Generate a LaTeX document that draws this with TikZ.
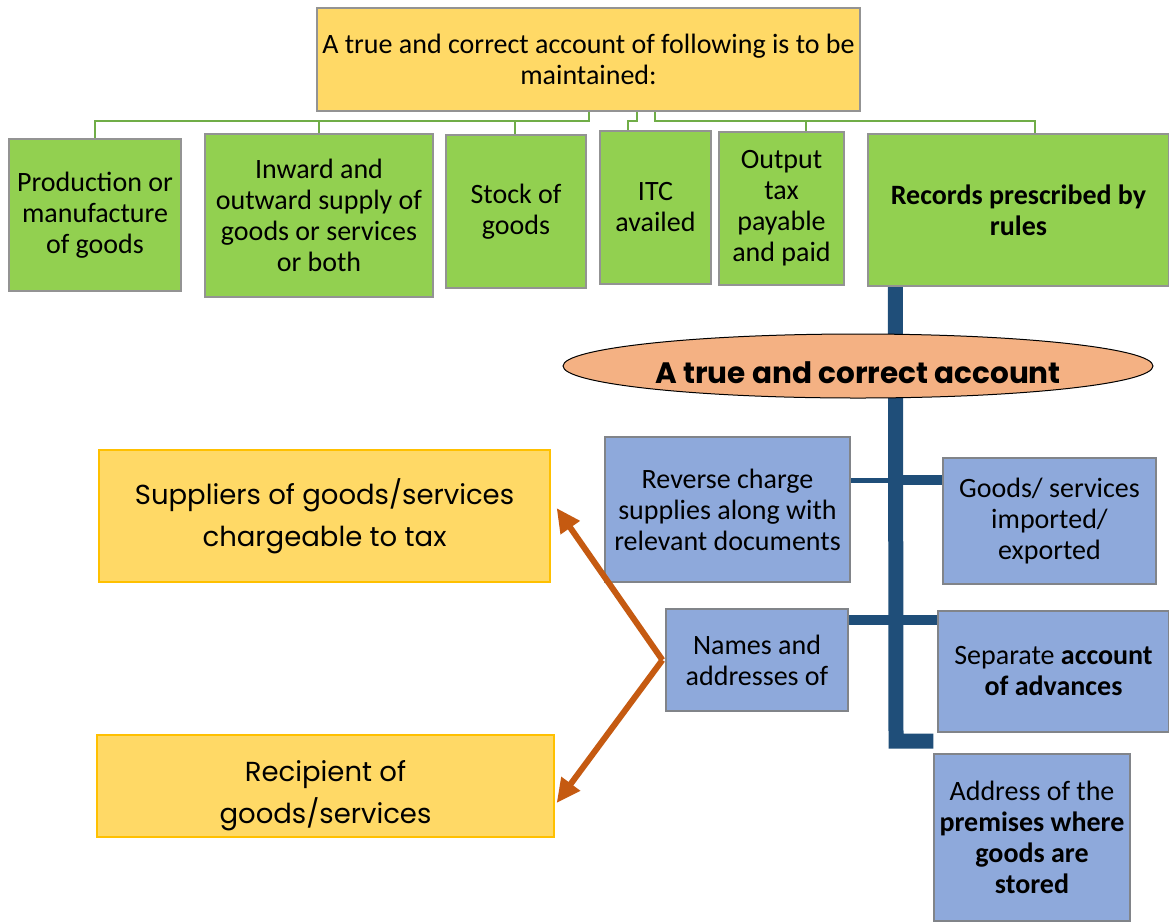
\documentclass[tikz,border=0pt]{standalone}
\usepackage{fontspec}
\setmainfont{Carlito}
\newfontfamily\popfont{Poppins}
\usepackage{tikz}
\usetikzlibrary{arrows.meta, positioning, calc, backgrounds, shapes.geometric}
\definecolor{acctyellow}{HTML}{FFD966}
\definecolor{acctgold}{HTML}{FFC000}
\definecolor{acctgreen}{HTML}{92D050}
\definecolor{acctlime}{HTML}{70AD47}
\definecolor{acctblue}{HTML}{8EA9DB}
\definecolor{acctnavy}{HTML}{1F4E79}
\definecolor{acctpeach}{HTML}{F4B183}
\definecolor{acctrust}{HTML}{C55A11}
\tikzset{
  headbox/.style={draw=gray!85, fill=acctyellow, line width=1.2pt,
                  align=center, inner sep=1pt, font=\fontsize{28}{31}\selectfont},
  itembox/.style={draw=gray!85, fill=acctgreen, line width=1.2pt,
                  align=center, inner sep=1pt, font=\fontsize{28}{31}\selectfont},
  recbox/.style={draw=gray!90!acctblue, fill=acctblue, line width=1.2pt,
                 align=center, inner sep=1pt, font=\fontsize{28}{31}\selectfont},
  notebox/.style={draw=acctgold, fill=acctyellow, line width=1.2pt,
                  align=center, inner sep=1pt, font=\popfont\fontsize{27.5}{42}\selectfont},
  ovalbox/.style={ellipse, draw=black, fill=acctpeach, line width=1pt, inner sep=0pt,
                  font=\popfont\bfseries\fontsize{29.5}{31}\selectfont},
  bus/.style={draw=acctlime, line width=2pt},
  trunk/.style={draw=acctnavy, line width=15pt},
  twig/.style={draw=acctnavy, line width=10pt},
  arrow/.style={-{Triangle[length=24pt,width=22pt]}, draw=acctrust, line width=6pt}
}

\begin{document}
\begin{tikzpicture}[x=1pt, y=-1pt]
    \useasboundingbox (0,0) rectangle (1169,922);
    % top row
    \node[headbox, minimum width=543pt, minimum height=103pt] (top) at (588.5,59.5) {A true and correct account of following is to be\\maintained:};
    \node[itembox, minimum width=172pt, minimum height=152pt] (g1) at (95,215) {Production or\\manufacture\\of goods};
    \node[itembox, minimum width=228pt, minimum height=163pt] (g2) at (319,215.5) {Inward and\\outward supply of\\goods or services\\or both};
    \node[itembox, minimum width=140pt, minimum height=153pt] (g3) at (516,211.5) {Stock of\\goods};
    \node[itembox, minimum width=111pt, minimum height=153pt] (g4) at (655.5,207.5) {ITC\\availed};
    \node[itembox, minimum width=125pt, minimum height=153pt] (g5) at (781.5,208.5) {Output\\tax\\payable\\and paid};
    \node[itembox, minimum width=301pt, minimum height=152pt] (g6) at (1018.5,210) {\textbf{Records prescribed by}\\\textbf{rules}};

    % account tree
    \node[ovalbox, minimum width=590pt, minimum height=64pt] (acct) at (858,366) {\raisebox{-7pt}[\height][\depth]{A true and correct account}};
    \node[recbox, minimum width=245pt, minimum height=145pt] (rev) at (727.5,509.5) {Reverse charge\\supplies along with\\relevant documents};
    \node[recbox, minimum width=213pt, minimum height=126pt] (imp) at (1049.5,521) {Goods/ services\\imported/\\exported};
    \node[recbox, minimum width=182pt, minimum height=102pt] (names) at (757,660) {Names and\\addresses of};
    \node[recbox, minimum width=231pt, minimum height=121pt] (sep) at (1053.5,671.5) {Separate \textbf{account}\\\textbf{of advances}};
    \node[recbox, minimum width=196pt, minimum height=167pt] (addr) at (1032,837.5) {Address of the\\\textbf{premises where}\\\textbf{goods are}\\\textbf{stored}};

    % parties
    \node[notebox, minimum width=451pt, minimum height=132pt] (supp) at (324.5,516) {Suppliers of goods/services\\chargeable to tax};
    \node[notebox, minimum width=457pt, minimum height=102pt] (recip) at (325.5,786) {\raisebox{-8pt}[\height][\depth]{\begin{tabular}{@{}c@{}}Recipient of\\goods/services\end{tabular}}};

    \coordinate (foot) at (896,741);
    \coordinate (fork) at ([xshift=-3pt]names.west);

    \begin{scope}[on background layer]
      \foreach \n/\x/\s in {g1/95/0, g2/319/0, g3/515/0, g4/628/48, g5/806/66, g6/1035/66}
        \draw[bus] ([xshift=\s pt]top.south) |- (\x,121) -- (\x,0 |- \n.north);
      \draw[trunk] ([xshift=28pt]g6.south west) -- (foot) -- (foot -| addr.west);
      \draw[twig, line width=5pt] (rev.east |- 0,480) -- (foot |- 0,480);
      \draw[twig] (foot |- 0,480) -- (imp.west |- 0,480);
      \draw[twig] (names.east |- 0,620) -- (sep.west |- 0,620);
    \end{scope}

    \draw[arrow] (fork) -- ([xshift=6pt,yshift=8pt]supp.east);
    \draw[arrow] (fork) -- ([xshift=2pt,yshift=-17pt]recip.east);
  \end{tikzpicture}
\end{document}
